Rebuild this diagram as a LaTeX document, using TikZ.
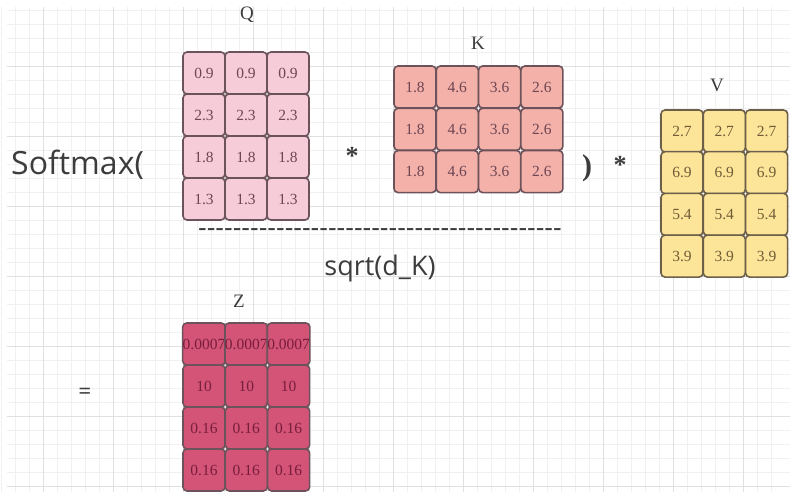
\documentclass[tikz,border=0pt]{standalone}
\usepackage{fontspec}
\usepackage{graphicx}
\setmainfont{Liberation Serif}
\newfontfamily\labfont{Open Sans}
\newfontfamily\dashfont{Liberation Sans}
\definecolor{gridminor}{RGB}{240,240,240}
\definecolor{gridmajor}{RGB}{224,224,224}
\definecolor{qfill}{RGB}{246,204,216}
\definecolor{kfill}{RGB}{244,177,170}
\definecolor{vfill}{RGB}{252,228,152}
\definecolor{zfill}{RGB}{212,84,120}
\definecolor{cellline}{RGB}{108,82,90}
\definecolor{vline}{RGB}{108,96,74}
\definecolor{celltext}{RGB}{110,70,82}
\definecolor{vtext}{RGB}{112,92,56}
\definecolor{ztext}{RGB}{120,30,60}
\definecolor{ink}{RGB}{60,60,60}
\tikzset{
  cellbox/.style={draw, rounded corners=4pt, minimum width=42pt, minimum height=42pt,
    inner sep=0pt, line width=1.6pt, font=\fontsize{15.5}{15.5}\selectfont},
  qcell/.style={cellbox, fill=qfill, draw=cellline, text=celltext},
  kcell/.style={cellbox, fill=kfill, draw=cellline, text=celltext},
  vcell/.style={cellbox, fill=vfill, draw=vline, text=vtext},
  zcell/.style={cellbox, fill=zfill, draw=cellline, text=ztext},
  mlabel/.style={font=\fontsize{19}{19}\selectfont, text=ink, inner sep=0pt},
  minorline/.style={draw=gridminor, line width=0.6pt},
  majorline/.style={draw=gridmajor, line width=0.9pt}
}
\begin{document}
\begin{tikzpicture}[x=1pt,y=-1pt]
\useasboundingbox (0,0) rectangle (790,492);
\fill[white] (0,0) rectangle (790,492);
% grid
\foreach \i in {0,...,55} \draw[minorline] ({\i*14+1},7) -- ({\i*14+1},492);
\foreach \j in {0,...,34} \draw[minorline] (7,{\j*14+10}) -- (790,{\j*14+10});
\foreach \i in {0,...,10} \draw[majorline] ({\i*70+43},7) -- ({\i*70+43},492);
\foreach \j in {0,...,6} \draw[majorline] (7,{\j*70+66}) -- (790,{\j*70+66});
% Q
\node[mlabel] (qlab) at (247,15) {Q};
\foreach \r/\v in {0/0.9,1/2.3,2/1.8,3/1.3}
  \foreach \c in {0,1,2}
    \node[qcell] (q-\r-\c) at ({204+42*\c},{73+42*\r}) {\v};
% K
\node[mlabel] (klab) at (478,43) {K};
\foreach \r in {0,1,2}
  \foreach \c/\v in {0/1.8,1/4.6,2/3.6,3/2.6}
    \node[kcell] (k-\r-\c) at ({415+42.3*\c},{87+42.3*\r}) {\v};
% V
\node[mlabel] (vlab) at (717,85) {V};
\foreach \r/\v in {0/2.7,1/6.9,2/5.4,3/3.9}
  \foreach \c in {0,1,2}
    \node[vcell] (v-\r-\c) at ({682+42.3*\c},{131+41.7*\r}) {\v};
% Z
\node[mlabel] (zlab) at (239,301) {Z};
\foreach \r/\v in {0/0.0007,1/10,2/0.16,3/0.16}
  \foreach \c in {0,1,2}
    \node[zcell] (z-\r-\c) at ({204+42.3*\c},{344+42*\r}) {\v};
% formula text
\node[anchor=base west, inner sep=0pt, text=ink, font=\labfont\fontsize{32}{32}\selectfont] (softmax) at (11,175) {Softmax(};
\node[inner sep=0pt, text=ink, font=\fontsize{26}{26}\selectfont\bfseries] (star1) at (352,156) {*};
\node[inner sep=0pt, text=ink, font=\fontsize{30}{30}\selectfont\bfseries] (rpar) at (587,168) {)};
\node[inner sep=0pt, text=ink, font=\fontsize{26}{26}\selectfont\bfseries] (star2) at (620,165) {*};
\node[inner sep=0pt, text=ink, font=\dashfont\fontsize{26}{26}\selectfont] (dashes) at (380,233) {------------------------------------------};
\node[inner sep=0pt, text=ink, font=\labfont\fontsize{27}{27}\selectfont] (sqrtdk) at (380,268) {sqrt(d\_K)};
\node[inner sep=0pt, text=ink, font=\fontsize{22}{22}\selectfont\bfseries] (eq) at (85,393) {=};
\end{tikzpicture}
\end{document}
